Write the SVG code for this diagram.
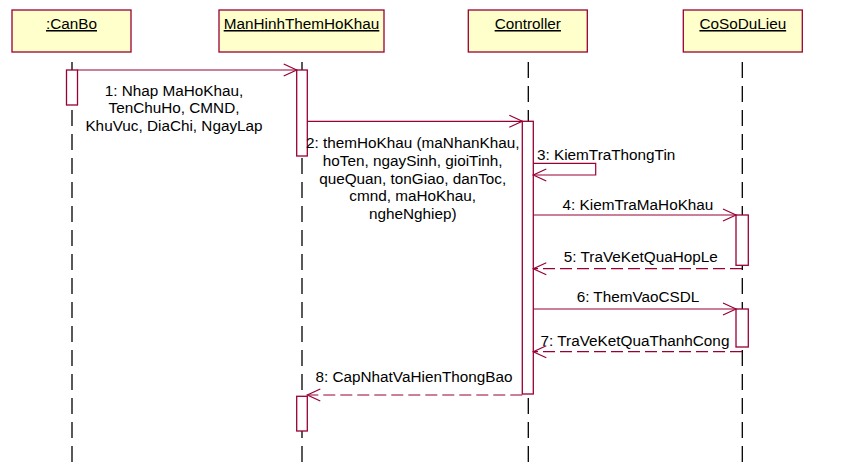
<svg xmlns="http://www.w3.org/2000/svg" width="842" height="465" viewBox="0 0 842 465">
<style>
.hdr{fill:#FFFFCC;stroke:#990033;stroke-width:1.3}
.act{fill:#FFFFFF;stroke:#990033;stroke-width:1.3}
.life{stroke:#000;stroke-width:1.3;stroke-dasharray:16 8;fill:none}
.msg{stroke:#990033;stroke-width:1.2;fill:none}
.ret{stroke:#990033;stroke-width:1.2;fill:none;stroke-dasharray:12 5}
text{font-family:"Liberation Sans",Arial,sans-serif;font-size:15.3px;fill:#000}
.t{text-anchor:middle;text-decoration:underline}
.c{text-anchor:middle}
</style>
<defs>
<marker id="open" markerUnits="userSpaceOnUse" markerWidth="16" markerHeight="14" refX="13" refY="6" orient="auto" overflow="visible">
<path d="M0,0 L13,6 L0,12" fill="none" stroke="#990033" stroke-width="1.2"/>
</marker>
</defs>
<rect width="842" height="465" fill="#FFFFFF"/>
<g id="CanBo">
<rect class="hdr" x="12" y="10" width="119" height="42"/>
<text class="t" x="71.5" y="29">:CanBo</text>
<line class="life" x1="72" y1="62" x2="72" y2="465"/>
<rect class="act" x="66.5" y="70" width="11" height="35"/>
</g>
<g id="ManHinhThemHoKhau">
<rect class="hdr" x="219" y="10" width="165" height="42"/>
<text class="t" x="301.5" y="29">ManHinhThemHoKhau</text>
<line class="life" x1="302" y1="62" x2="302" y2="465"/>
<rect class="act" x="296.7" y="70" width="10.6" height="86"/>
<rect class="act" x="296.7" y="396.3" width="10.6" height="34.7"/>
</g>
<g id="Controller">
<rect class="hdr" x="468.3" y="10" width="119" height="42"/>
<text class="t" x="527.8" y="29">Controller</text>
<line class="life" x1="528.3" y1="62" x2="528.3" y2="465"/>
<rect class="act" x="522.3" y="121.3" width="11" height="272.7"/>
</g>
<g id="CoSoDuLieu">
<rect class="hdr" x="683.3" y="10" width="119" height="42"/>
<text class="t" x="742.8" y="29">CoSoDuLieu</text>
<line class="life" x1="742.3" y1="62" x2="742.3" y2="465"/>
<rect class="act" x="736" y="215" width="12.3" height="50.3"/>
<rect class="act" x="736" y="309" width="12.3" height="38"/>
</g>
<g id="connectors">
<line class="msg" x1="77.3" y1="70" x2="296.7" y2="70" marker-end="url(#open)"/>
<text class="c" x="174" y="95.5">1: Nhap MaHoKhau,</text>
<text class="c" x="174" y="113.2">TenChuHo, CMND,</text>
<text class="c" x="174" y="130.9">KhuVuc, DiaChi, NgayLap</text>
<line class="msg" x1="307.3" y1="121.3" x2="522.3" y2="121.3" marker-end="url(#open)"/>
<text class="c" x="412.7" y="148.3">2: themHoKhau (maNhanKhau,</text>
<text class="c" x="412.7" y="166">hoTen, ngaySinh, gioiTinh,</text>
<text class="c" x="412.7" y="183.7">queQuan, tonGiao, danToc,</text>
<text class="c" x="412.7" y="201.4">cmnd, maHoKhau,</text>
<text class="c" x="412.7" y="219.1">ngheNghiep)</text>
<path class="msg" d="M533.3,163.3 H595.7 V175 H533.3" marker-end="url(#open)"/>
<text x="537" y="160.3">3: KiemTraThongTin</text>
<line class="msg" x1="533.3" y1="215" x2="736" y2="215" marker-end="url(#open)"/>
<text class="c" x="638" y="210">4: KiemTraMaHoKhau</text>
<line class="ret" x1="742" y1="268.7" x2="533.3" y2="268.7" marker-end="url(#open)"/>
<text class="c" x="640.8" y="262.3">5: TraVeKetQuaHopLe</text>
<line class="msg" x1="533.3" y1="309" x2="736" y2="309" marker-end="url(#open)"/>
<text class="c" x="638" y="301.7">6: ThemVaoCSDL</text>
<line class="ret" x1="742" y1="351.7" x2="533.3" y2="351.7" marker-end="url(#open)"/>
<text class="c" x="635" y="345.7">7: TraVeKetQuaThanhCong</text>
<line class="ret" x1="522.3" y1="395" x2="307.3" y2="395" marker-end="url(#open)"/>
<text class="c" x="414" y="382.3">8: CapNhatVaHienThongBao</text>
</g>
</svg>
